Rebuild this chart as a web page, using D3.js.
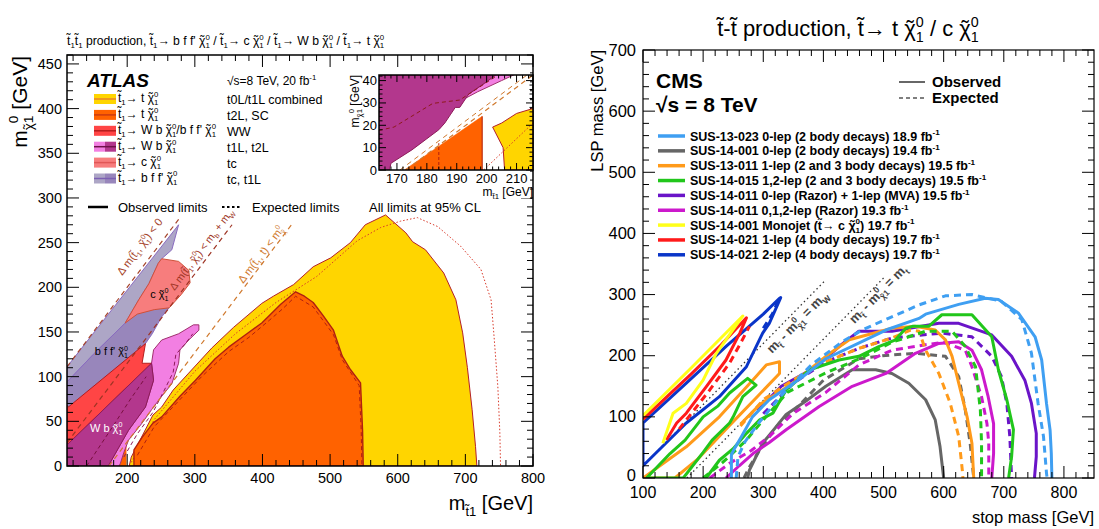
<!DOCTYPE html>
<html>
<head>
<meta charset="utf-8">
<script src="https://cdn.jsdelivr.net/npm/d3@7"></script>
<style>
body { margin: 0; background: #fff; }
text { font-family: "Liberation Sans", Arial, sans-serif; }
</style>
</head>
<body>
<script>
var T = "t\u0303", CHI = "\u03c7\u0303";

// ---------------- ATLAS panel: (m_stop, m_LSP) in GeV ----------------
var atlasYellowObs = [[203,0],[206,10],[219,29],[238,57],[251,66],[268,85],[291,104],[325,132],[357,155],[399,182],[416,190],[446,203],[475,223],[501,233],[530,250],[552,270],[582,281],[612,261],[622,251],[641,242],[668,216],[686,186],[696,149],[703,110],[710,63],[715,22],[717,0]];
var atlasYellowExp = [[206,4],[240,52],[300,106],[360,148],[420,183],[480,212],[540,252],[575,267],[604,274],[629,278],[659,268],[693,246],[723,220],[738,186],[742,149],[748,89],[751,37],[752,0]];
var atlasOrangeObs = [[210,0],[210,18],[222,32],[238,48],[251,55],[278,78],[301,96],[330,120],[350,133],[377,148],[399,160],[427,181],[449,195],[462,190],[475,183],[490,168],[505,152],[518,123],[530,108],[545,93],[548,40],[549,0]];
var atlasOrangeExp = [[215,12],[240,44],[280,76],[310,100],[350,128],[380,144],[410,163],[430,176],[449,190],[475,178],[505,147],[518,119],[543,90],[546,40],[547,0]];
var atlasOrangeLow = [[172.5,0],[198.5,24],[198.5,0]];
var atlasLavender = [[111,111],[276,270],[266,242],[251,232],[246,227],[232,204],[217,186],[197,160],[150,125],[111,94]];
var atlasLavenderDark = [[111,94],[150,125],[197,160],[222,178],[262,177],[251,167],[237,148],[227,137],[113,66],[111,66]];
var atlasSalmon = [[246,227],[251,232],[276,229],[291,219],[293,205],[280,192],[262,177],[240,175],[215,170],[197,160],[217,186],[232,204]];
var atlasRed = [[111,25],[111,68],[113,66],[227,137],[222,115],[236,115],[113,25]];
var atlasPink = [[236,115],[239,130],[251,141],[276,148],[298,158],[306,158],[306,152],[291,141],[278,130],[276,115],[266,92],[251,78],[236,63],[222,48],[202,29],[195,15],[190,3],[188,0],[172,0],[202,40],[227,66],[239,96]];
var atlasPinkExp = [[195,10],[215,36],[238,60],[255,85],[268,105],[272,125],[285,136],[297,148]];
var atlasMagenta = [[111,0],[111,25],[113,25],[236,115],[239,96],[227,66],[202,40],[172,0]];
var atlasMagentaExp = [[140,0],[175,40],[205,75],[228,100]];
var atlasKinDelta = [0, 85, 173];        // m_LSP = m_stop - delta
var atlasKinTop = [276, 270, 270];

// inset (zoom on the low-mass corner)
var insetMagenta = [[164,0],[167.5,0],[168,3],[175,9],[180,14],[184,18],[186,21],[188,25],[189.5,28],[191,28],[194,34],[200,39.5],[203,42.5],[164,42.5]];
var insetPink = [[190,30],[194,34],[200,39.5],[203,42.5],[209,42.5],[205,40],[197,35]];
var insetOrange = [[172.5,0],[198.5,24],[198.5,0]];
var insetYellow = [[202,19.2],[205,21],[210,25.3],[215.5,27.5],[215.5,0],[206,0],[205.5,10]];
var insetMagentaExp = [[164,17.7],[169,19.2],[182,29.8],[191,31.3],[203,41.8]];
var insetOrangeExp = [[184,0],[184,12]];
var insetYellowExp = [[199,0],[215.5,21]];

// legend
var atlasLegLabels = [T+"_{1}\u2192 t "+CHI+"_{1}^{0}", T+"_{1}\u2192 t "+CHI+"_{1}^{0}", T+"_{1}\u2192 W b "+CHI+"_{1}^{0}/b f f' "+CHI+"_{1}^{0}", T+"_{1}\u2192 W b "+CHI+"_{1}^{0}", T+"_{1}\u2192 c "+CHI+"_{1}^{0}", T+"_{1}\u2192 b f f' "+CHI+"_{1}^{0}"];
var atlasLegAnalyses = ["t0L/t1L combined", "t2L, SC", "WW", "t1L, t2L", "tc", "tc, t1L"];
var atlasLegFill1 = ["#ffd500", "#ff6200", "#ff4545", "#f27fe2", "#f77d7d", "#ada6c6"];
var atlasLegFill2 = ["#ffd500", "#ff6200", "#ff4545", "#b3378d", "#f77d7d", "#9886bb"];
var atlasLegLine = ["#e8822a", "#cc3a10", "#b51d1d", "#6e1048", "#e05656", "#7c5fb3"];

// ---------------- CMS panel ----------------
var cmsBlueLightObs = [[247,0],[247,38],[252,48],[265,70],[282,100],[310,128],[365,165],[404,195],[470,226],[504,242],[559,261],[570,268],[625,284],[669,294],[691,292],[724,270],[752,231],[763,193],[771,122],[777,78],[779,40],[780,0]];
var cmsBlueLightExp = [[255,0],[258,35],[270,60],[294,92],[330,135],[380,185],[430,222],[464,242],[510,262],[559,283],[603,298],[647,300],[696,289],[730,259],[746,204],[757,122],[766,68],[771,8],[772,0]];
var cmsGrayObs = [[274,0],[277,13],[283,25],[299,57],[310,70],[338,104],[371,126],[404,150],[448,177],[487,177],[514,171],[542,155],[570,128],[586,95],[594,51],[600,0]];
var cmsGrayExp = [[268,0],[277,18],[294,46],[327,90],[349,108],[400,160],[459,195],[498,200],[553,204],[603,199],[625,166],[636,111],[644,57],[650,0]];
var cmsOrangeLoop = [[100,0],[172,51],[227,100],[288,166],[305,185],[327,190],[327,171],[290,133],[240,82],[190,30],[153,0]];
var cmsOrangeObs = [[262,88],[294,120],[349,155],[404,199],[443,226],[514,245],[553,248],[586,242],[603,226],[614,199],[625,155],[639,100],[647,57],[650,0]];
var cmsOrangeExp = [[262,85],[300,128],[349,160],[404,190],[459,212],[514,229],[545,242],[559,240],[570,209],[592,171],[611,122],[625,68],[631,13],[632,0]];
var cmsGreenLoop = [[106,0],[145,40],[170,62],[200,100],[225,118],[244,139],[274,163],[288,152],[266,133],[250,100],[244,90],[215,62],[200,42],[167,0]];
var cmsGreenObs = [[205,0],[227,29],[250,48],[272,73],[294,95],[316,106],[338,144],[377,177],[426,193],[459,199],[492,215],[520,226],[537,245],[548,248],[575,248],[597,267],[647,267],[680,231],[691,177],[705,128],[716,79],[713,35],[708,0]];
var cmsGreenExp = [[200,0],[232,25],[270,60],[300,95],[340,140],[404,172],[460,195],[514,222],[570,240],[614,240],[636,215],[653,182],[661,111],[663,57],[663,0]];
var cmsPurpleObs = [[290,110],[330,150],[388,182],[426,215],[459,240],[514,240],[592,253],[625,253],[680,234],[713,199],[735,160],[746,122],[754,73],[754,35],[751,0]];
var cmsPurpleExp = [[300,105],[350,155],[404,190],[459,212],[514,229],[597,237],[647,231],[680,199],[696,166],[705,122],[710,68],[713,0]];
var cmsMagentaObs = [[238,0],[260,20],[283,40],[310,58],[338,79],[393,117],[448,150],[504,171],[553,204],[592,220],[625,223],[647,209],[663,177],[674,133],[683,89],[683,40],[680,0]];
var cmsMagentaExp = [[211,0],[244,24],[280,45],[310,68],[349,105],[404,140],[459,185],[514,209],[570,218],[600,222],[636,209],[647,182],[663,133],[672,89],[675,57],[675,0]];
var cmsYellowObs = [[133,57],[150,106],[172,122],[200,160],[222,204],[266,265],[180,180],[100,102]];
var cmsRedObs = [[139,62],[156,90],[172,106],[205,149],[238,193],[261,237],[272,262],[230,218],[180,170],[140,133],[100,96]];
var cmsRedExp = [[160,80],[172,95],[211,144],[244,188],[262,220],[277,248]];
var cmsBlueObs = [[100,90],[172,155],[240,217],[300,268],[327,294],[329,295],[320,275],[310,253],[299,237],[272,182],[227,133],[172,90],[100,20],[100,90]];
var cmsBlueExp = [[300,245],[315,268],[324,288]];
var cmsKinDelta = [80, 173];
var cmsKinTop = [401, 500];

var cmsLegLabels = ["SUS-13-023 0-lep (2 body decays) 18.9 fb^{-1}", "SUS-14-001 0-lep (2 body decays) 19.4 fb^{-1}", "SUS-13-011 1-lep (2 and 3 body decays) 19.5 fb^{-1}", "SUS-14-015 1,2-lep (2 and 3 body decays) 19.5 fb^{-1}", "SUS-14-011 0-lep (Razor) + 1-lep (MVA) 19.5 fb^{-1}", "SUS-14-011 0,1,2-lep (Razor) 19.3 fb^{-1}", "SUS-14-001 Monojet ("+T+"\u2192 c  "+CHI+"_{1}^{0}) 19.7 fb^{-1}", "SUS-14-021 1-lep (4 body decays) 19.7 fb^{-1}", "SUS-14-021 2-lep (4 body decays) 19.7 fb^{-1}"];
var cmsLegColors = ["#3f9ff2", "#666666", "#ff9a1a", "#21c61b", "#6a14c8", "#cc19cc", "#ffff1a", "#ff1a1a", "#0a35c8"];

// ------------------------------------------------------------
var W = 1099, H = 529;
var svg = d3.select("body").append("svg").attr("width", W).attr("height", H);

// one run of text; a chi with tilde gets its tilde drawn by hand
function addRun(sel, s, dy, dx, size) {
  var parts = s.split(CHI), first = true, carry = dx, width = 0;
  function put(txt) {
    var t = sel.append("tspan").text(txt);
    if (size) t.attr("font-size", size);
    if (first) { t.attr("dy", dy); first = false; }
    if (carry) { t.attr("dx", carry); carry = 0; }
    return t;
  }
  parts.forEach(function (p, k) {
    if (k > 0) {
      var c = put("\u03c7");
      var w = c.node().getComputedTextLength();
      width += w;
      var tl = put("\u02dc");
      var tw = tl.node().getComputedTextLength();
      tl.attr("dx", -(w + tw) / 2);
      carry = (w - tw) / 2;
    }
    if (p.length) {
      var t = put(p);
      width += t.node().getComputedTextLength();
    }
  });
  return { carry: carry, width: width };
}

// mini ROOT-like markup: _{sub} ^{sup}
function rich(sel, str) {
  var fs = parseFloat(sel.attr("font-size"));
  var re = /(_\{[^}]*\}|\^\{[^}]*\}|[^_^]+)/g, m, shift = 0, lastSub = null, carry = 0;
  while ((m = re.exec(str)) !== null) {
    var tok = m[0], kind = "n", s = tok;
    if (tok[0] === "_") { kind = "sub"; s = tok.slice(2, -1); }
    else if (tok[0] === "^") { kind = "sup"; s = tok.slice(2, -1); }
    var target = kind === "sub" ? 0.28 * fs : kind === "sup" ? -0.42 * fs : 0;
    var dx0 = carry;
    if (kind === "sup" && lastSub) dx0 -= lastSub.width;
    var res = addRun(sel, s, target - shift, dx0, kind === "n" ? null : fs * 0.65);
    carry = res.carry;
    shift = target;
    lastSub = kind === "sub" ? res : null;
  }
  return sel;
}

function label(g, x, y, str, size, opts) {
  opts = opts || {};
  var t = g.append("text").attr("x", x).attr("y", y).attr("font-size", size)
    .attr("fill", opts.fill || "#000")
    .attr("text-anchor", opts.anchor || "start");
  if (opts.weight) t.attr("font-weight", opts.weight);
  if (opts.style) t.attr("font-style", opts.style);
  if (opts.rotate !== undefined) t.attr("transform", "rotate(" + opts.rotate + "," + x + "," + y + ")");
  return rich(t, str);
}

// frame with inward ticks on all four sides
function rootFrame(g, x, y, xMaj, xMin, yMaj, yMin, lenMaj, lenMin, sw) {
  var xl = x.range()[0], xr = x.range()[1], yb = y.range()[0], yt = y.range()[1];
  var t = g.append("g").attr("stroke", "#000").attr("stroke-width", 1);
  xMin.forEach(function (v) {
    var len = xMaj.indexOf(v) >= 0 ? lenMaj : lenMin;
    t.append("line").attr("x1", x(v)).attr("x2", x(v)).attr("y1", yb).attr("y2", yb - len);
    t.append("line").attr("x1", x(v)).attr("x2", x(v)).attr("y1", yt).attr("y2", yt + len);
  });
  yMin.forEach(function (v) {
    var len = yMaj.indexOf(v) >= 0 ? lenMaj : lenMin;
    t.append("line").attr("y1", y(v)).attr("y2", y(v)).attr("x1", xl).attr("x2", xl + len);
    t.append("line").attr("y1", y(v)).attr("y2", y(v)).attr("x1", xr).attr("x2", xr - len);
  });
  g.append("rect").attr("x", xl).attr("y", yt).attr("width", xr - xl).attr("height", yb - yt)
    .attr("fill", "none").attr("stroke", "#000").attr("stroke-width", sw);
}

function clipRect(id, x, y) {
  svg.append("clipPath").attr("id", id).append("rect")
    .attr("x", x.range()[0]).attr("y", y.range()[1])
    .attr("width", x.range()[1] - x.range()[0]).attr("height", y.range()[0] - y.range()[1]);
}

function area(g, line, pts, fill, stroke, sw) {
  g.append("path").attr("d", line(pts) + "Z").attr("fill", fill)
    .attr("stroke", stroke).attr("stroke-width", sw || 1).attr("stroke-linejoin", "round");
}
function curve(g, line, pts, stroke, sw, dash) {
  var p = g.append("path").attr("d", line(pts)).attr("fill", "none")
    .attr("stroke", stroke).attr("stroke-width", sw).attr("stroke-linejoin", "round");
  if (dash) p.attr("stroke-dasharray", dash);
  return p;
}

// ================= ATLAS =================
var ax = d3.scaleLinear().domain([111, 800]).range([67, 533]);
var ay = d3.scaleLinear().domain([0, 460]).range([466, 55]);
var aline = d3.line().x(function (d) { return ax(d[0]); }).y(function (d) { return ay(d[1]); });
clipRect("clipA", ax, ay);
var ga = svg.append("g").attr("clip-path", "url(#clipA)");

area(ga, aline, atlasYellowObs, "#ffd500", "#b3202a", 1);
curve(ga, aline, atlasYellowExp, "#d93a2a", 1, "1.5,2");
area(ga, aline, atlasOrangeObs, "#ff6200", "#b02010", 1.4);
curve(ga, aline, atlasOrangeExp, "#b02010", 1, "4,3");
area(ga, aline, atlasOrangeLow, "#ff6200", "#ff6200", 0.5);
area(ga, aline, atlasLavender, "#ada6c6", "#8a6cc0", 1);
area(ga, aline, atlasLavenderDark, "#9886bb", "#8a6cc0", 1);
area(ga, aline, atlasSalmon, "#f77d7d", "#d05038", 1);
area(ga, aline, atlasRed, "#ff4545", "#b51d1d", 1);
area(ga, aline, atlasPink, "#f27fe2", "#a0306e", 1);
curve(ga, aline, atlasPinkExp, "#8e1a5a", 1, "4,3");
area(ga, aline, atlasMagenta, "#b3378d", "#8e1a5a", 1);
curve(ga, aline, atlasMagentaExp, "#7a1040", 1, "4,3");

var kinColors = ["#a5442a", "#9e3424", "#d0792e"];
atlasKinDelta.forEach(function (dm, i) {
  var x0 = Math.max(111, dm), x1 = atlasKinTop[i] + dm;
  curve(ga, aline, [[x0, x0 - dm], [x1, x1 - dm]], kinColors[i], 1.2, "5,4");
});

rootFrame(svg, ax, ay, d3.range(200, 801, 100), d3.range(120, 801, 20),
  d3.range(0, 451, 50), d3.range(0, 461, 10), 12, 6, 1.5);

d3.range(200, 801, 100).forEach(function (v) {
  svg.append("text").attr("x", ax(v)).attr("y", 483).attr("font-size", 14.5)
    .attr("text-anchor", "middle").text(v);
});
d3.range(0, 451, 50).forEach(function (v) {
  svg.append("text").attr("x", 62).attr("y", ay(v) + 5).attr("font-size", 14.5)
    .attr("text-anchor", "end").text(v);
});

// labels in the plane
var kinAngle = -Math.atan((ay(0) - ay(1)) / (ax(1) - ax(0))) * 180 / Math.PI;
label(svg, ax(223), ay(243), "\u0394 m(" + T + "_{1}, " + CHI + "_{1}^{0}) < 0", 11, { anchor: "middle", rotate: kinAngle, fill: kinColors[0] });
label(svg, ax(314), ay(240), "\u0394 m(" + T + "_{1}, " + CHI + "_{1}^{0}) < m_{b} + m_{W}", 10.5, { anchor: "middle", rotate: kinAngle, fill: kinColors[1] });
label(svg, ax(402), ay(234), "\u0394 m(" + T + "_{1}, t) < m_{" + CHI + "}^{0}", 11, { anchor: "middle", rotate: kinAngle, fill: kinColors[2] });
label(svg, ax(234), ay(188), "c " + CHI + "_{1}^{0}", 11);
label(svg, ax(152), ay(124), "b f f' " + CHI + "_{1}^{0}", 11);
label(svg, ax(145), ay(38), "W b " + CHI + "_{1}^{0}", 11, { fill: "#fff" });

// axis titles
label(svg, ax(800), 510, "m_{" + T + "1} [GeV]", 20, { anchor: "end" });
label(svg, 27, 56, "m_{" + CHI + "}_{1}^{0} [GeV]", 21, { anchor: "end", rotate: -90 });
label(svg, 67, 45, T + "_{1}" + T + "_{1} production, " + T + "_{1}\u2192 b f f' " + CHI + "_{1}^{0} / " + T + "_{1}\u2192 c " + CHI + "_{1}^{0} / " + T + "_{1}\u2192 W b " + CHI + "_{1}^{0} / " + T + "_{1}\u2192 t " + CHI + "_{1}^{0}", 12.2);

// legend
svg.append("text").attr("x", 87).attr("y", 87).attr("font-size", 19).attr("font-weight", "bold")
  .attr("font-style", "italic").text("ATLAS");
label(svg, 227, 85, "\u221as=8 TeV, 20 fb^{-1}", 12);
atlasLegLabels.forEach(function (s, i) {
  var cyy = 99 + i * 15.9;
  svg.append("rect").attr("x", 94).attr("y", cyy - 5).attr("width", 11).attr("height", 10).attr("fill", atlasLegFill1[i]);
  svg.append("rect").attr("x", 105).attr("y", cyy - 5).attr("width", 11).attr("height", 10).attr("fill", atlasLegFill2[i]);
  svg.append("line").attr("x1", 94).attr("x2", 116).attr("y1", cyy).attr("y2", cyy)
    .attr("stroke", atlasLegLine[i]).attr("stroke-width", 1.5);
  label(svg, 118, cyy + 3, s, 12);
  svg.append("text").attr("x", 227).attr("y", cyy + 5).attr("font-size", 12.5).text(atlasLegAnalyses[i]);
});
svg.append("line").attr("x1", 88).attr("x2", 108).attr("y1", 207).attr("y2", 207).attr("stroke", "#000").attr("stroke-width", 2.5);
svg.append("text").attr("x", 118).attr("y", 212).attr("font-size", 13).text("Observed limits");
svg.append("line").attr("x1", 222).attr("x2", 242).attr("y1", 207).attr("y2", 207).attr("stroke", "#000").attr("stroke-width", 2).attr("stroke-dasharray", "2.5,2.5");
svg.append("text").attr("x", 252).attr("y", 212).attr("font-size", 13).text("Expected limits");
svg.append("text").attr("x", 369).attr("y", 212).attr("font-size", 13).text("All limits at 95% CL");

// inset
var ix = d3.scaleLinear().domain([164, 215.5]).range([379, 533]);
var iy = d3.scaleLinear().domain([0, 42.5]).range([170, 75]);
var iline = d3.line().x(function (d) { return ix(d[0]); }).y(function (d) { return iy(d[1]); });
svg.append("rect").attr("x", 340).attr("y", 70).attr("width", 190).attr("height", 128).attr("fill", "#fff");
clipRect("clipI", ix, iy);
var gi = svg.append("g").attr("clip-path", "url(#clipI)");
area(gi, iline, insetYellow, "#ffd500", "#b3202a", 1);
curve(gi, iline, insetYellowExp, "#d93a2a", 1, "1.5,2");
area(gi, iline, insetOrange, "#ff6200", "#ff6200", 0.5);
curve(gi, iline, insetOrangeExp, "#b02010", 1, "3,2");
curve(gi, iline, [[198.5, 0], [198.5, 24]], "#b02010", 1);
area(gi, iline, insetPink, "#f27fe2", "#a0306e", 1);
area(gi, iline, insetMagenta, "#b3378d", "#8e1a5a", 1);
curve(gi, iline, insetMagentaExp, "#8e1a1a", 1, "4,3");
curve(gi, iline, [[173, 0], [215.5, 42.5]], kinColors[2], 1.2, "5,4");
curve(gi, iline, [[171, 0], [213.5, 42.5]], kinColors[2], 1, "5,4");
rootFrame(svg, ix, iy, d3.range(170, 211, 10), d3.range(166, 215, 2),
  d3.range(0, 41, 10), d3.range(0, 43, 2), 7, 3.5, 1.5);
d3.range(170, 211, 10).forEach(function (v) {
  svg.append("text").attr("x", ix(v)).attr("y", 183).attr("font-size", 13)
    .attr("text-anchor", "middle").text(v);
});
d3.range(0, 41, 10).forEach(function (v) {
  svg.append("text").attr("x", 377).attr("y", iy(v) + 4.5).attr("font-size", 13)
    .attr("text-anchor", "end").text(v);
});
label(svg, 533, 196, "m_{" + T + "1} [GeV]", 12, { anchor: "end" });
label(svg, 359, 75, "m_{" + CHI + "}_{1}^{0} [GeV]", 12, { anchor: "end", rotate: -90 });

// ================= CMS =================
var cx = d3.scaleLinear().domain([100, 850]).range([643, 1094]);
var cy = d3.scaleLinear().domain([0, 700]).range([478, 50]);
var cline = d3.line().x(function (d) { return cx(d[0]); }).y(function (d) { return cy(d[1]); });
clipRect("clipC", cx, cy);
var gc = svg.append("g").attr("clip-path", "url(#clipC)");

cmsKinDelta.forEach(function (dm, i) {
  var x0 = Math.max(100, dm), x1 = cmsKinTop[i];
  curve(gc, cline, [[x0, x0 - dm], [x1, x1 - dm]], "#333", 1.3, "1.5,3");
});

var lw = 3;
var dash = "7,5";
curve(gc, cline, cmsGrayExp, cmsLegColors[1], lw, dash);
curve(gc, cline, cmsGrayObs, cmsLegColors[1], lw);
curve(gc, cline, cmsMagentaExp, cmsLegColors[5], lw, dash);
curve(gc, cline, cmsMagentaObs, cmsLegColors[5], lw);
curve(gc, cline, cmsPurpleExp, cmsLegColors[4], lw, dash);
curve(gc, cline, cmsPurpleObs, cmsLegColors[4], lw);
curve(gc, cline, cmsOrangeExp, cmsLegColors[2], lw, dash);
curve(gc, cline, cmsOrangeObs, cmsLegColors[2], lw);
curve(gc, cline, cmsOrangeLoop.concat([cmsOrangeLoop[0]]), cmsLegColors[2], lw);
curve(gc, cline, cmsGreenExp, cmsLegColors[3], lw, dash);
curve(gc, cline, cmsGreenObs, cmsLegColors[3], lw);
curve(gc, cline, cmsGreenLoop.concat([cmsGreenLoop[0]]), cmsLegColors[3], lw);
curve(gc, cline, cmsBlueLightExp, cmsLegColors[0], lw, dash);
curve(gc, cline, cmsBlueLightObs, cmsLegColors[0], lw);
curve(gc, cline, cmsBlueExp, cmsLegColors[8], lw, dash);
curve(gc, cline, cmsBlueObs, cmsLegColors[8], lw);
curve(gc, cline, cmsRedExp, cmsLegColors[7], lw, dash);
curve(gc, cline, cmsRedObs, cmsLegColors[7], lw);
curve(gc, cline, cmsYellowObs, cmsLegColors[6], lw);

rootFrame(svg, cx, cy, d3.range(100, 801, 100), d3.range(100, 851, 20),
  d3.range(0, 701, 100), d3.range(0, 701, 20), 12, 6, 1.2);
d3.range(100, 801, 100).forEach(function (v) {
  svg.append("text").attr("x", cx(v)).attr("y", 498).attr("font-size", 16)
    .attr("text-anchor", "middle").text(v);
});
d3.range(0, 701, 100).forEach(function (v) {
  svg.append("text").attr("x", 636).attr("y", cy(v) + (v === 0 ? 3 : 5.5)).attr("font-size", 16.5)
    .attr("text-anchor", "end").text(v);
});
svg.append("text").attr("x", 1094).attr("y", 523).attr("font-size", 16.5)
  .attr("text-anchor", "end").text("stop mass [GeV]");
svg.append("text").attr("x", 603).attr("y", 50).attr("font-size", 16.5)
  .attr("text-anchor", "end").attr("transform", "rotate(-90,603,50)").text("LSP mass [GeV]");
label(svg, 848, 36, T + "-" + T + " production,  " + T + "\u2192 t " + CHI + "_{1}^{0} / c " + CHI + "_{1}^{0}", 22, { anchor: "middle" });

svg.append("text").attr("x", 656).attr("y", 88).attr("font-size", 21).attr("font-weight", "bold").text("CMS");
svg.append("text").attr("x", 656).attr("y", 112).attr("font-size", 21).attr("font-weight", "bold").text("\u221as = 8 TeV");
svg.append("line").attr("x1", 899).attr("x2", 925).attr("y1", 82).attr("y2", 82).attr("stroke", "#000").attr("stroke-width", 1.2);
svg.append("text").attr("x", 932).attr("y", 87).attr("font-size", 15).attr("font-weight", "bold").text("Observed");
svg.append("line").attr("x1", 899).attr("x2", 925).attr("y1", 98).attr("y2", 98).attr("stroke", "#000").attr("stroke-width", 1.2).attr("stroke-dasharray", "4,3");
svg.append("text").attr("x", 932).attr("y", 103).attr("font-size", 15).attr("font-weight", "bold").text("Expected");

cmsLegLabels.forEach(function (s, i) {
  var yy = 136 + i * 14.85;
  svg.append("line").attr("x1", 658).attr("x2", 685).attr("y1", yy).attr("y2", yy)
    .attr("stroke", cmsLegColors[i]).attr("stroke-width", 3.5);
  label(svg, 690, yy + 4.5, s, 12.5, { weight: "bold" });
});

var cAngle = -Math.atan((cy(0) - cy(1)) / (cx(1) - cx(0))) * 180 / Math.PI;
label(svg, cx(362), cy(250), "m_{" + T + "} - m_{" + CHI + "}^{0}_{1} = m_{W}", 13, { anchor: "middle", rotate: cAngle, weight: "bold", fill: "#444" });
label(svg, cx(496), cy(296), "m_{" + T + "} - m_{" + CHI + "}^{0}_{1} = m_{t}", 13, { anchor: "middle", rotate: cAngle, weight: "bold", fill: "#444" });
</script>
</body>
</html>
